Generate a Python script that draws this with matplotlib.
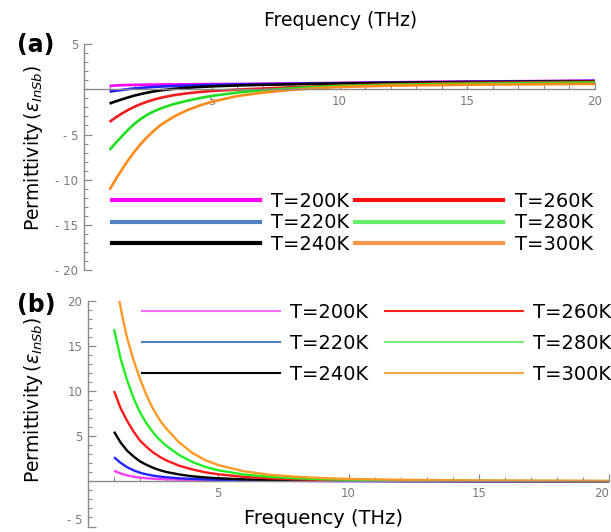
import matplotlib
matplotlib.use("Agg")
import matplotlib.pyplot as plt
from matplotlib.lines import Line2D
from matplotlib.ticker import MultipleLocator, FixedLocator, FixedFormatter

plt.rcParams['font.family'] = ['DejaVu Sans']
plt.rcParams['mathtext.fontset'] = 'dejavusans'

# ---------------- data ----------------
temps = ["T=200K", "T=220K", "T=240K", "T=260K", "T=280K", "T=300K"]

freq = [1, 1.25, 1.5, 1.75, 2, 2.25, 2.5, 2.75, 3, 3.5, 4, 4.5, 5, 6, 7, 8, 9, 10, 12, 15, 20]

# (a) real part of permittivity
re_200 = [0.37, 0.42, 0.45, 0.47, 0.49, 0.50, 0.51, 0.52, 0.53, 0.54, 0.55, 0.56, 0.57, 0.59, 0.61, 0.64, 0.67, 0.70, 0.77, 0.85, 0.95]
re_220 = [-0.26, -0.16, -0.07, 0.02, 0.10, 0.16, 0.21, 0.26, 0.30, 0.36, 0.41, 0.45, 0.48, 0.53, 0.57, 0.60, 0.64, 0.67, 0.74, 0.82, 0.92]
re_240 = [-1.58, -1.33, -1.10, -0.88, -0.68, -0.51, -0.36, -0.23, -0.12, 0.04, 0.16, 0.25, 0.32, 0.42, 0.49, 0.54, 0.59, 0.63, 0.70, 0.79, 0.88]
re_260 = [-3.60, -3.10, -2.65, -2.25, -1.90, -1.60, -1.35, -1.13, -0.94, -0.66, -0.46, -0.31, -0.19, -0.03, 0.08, 0.20, 0.30, 0.40, 0.55, 0.70, 0.83]
re_280 = [-6.70, -5.90, -5.15, -4.40, -3.76, -3.22, -2.78, -2.42, -2.12, -1.65, -1.30, -0.99, -0.74, -0.36, -0.10, 0.08, 0.24, 0.36, 0.50, 0.62, 0.75]
re_300 = [-11.10, -9.90, -8.80, -7.75, -6.80, -5.95, -5.20, -4.55, -3.95, -3.05, -2.35, -1.82, -1.38, -0.75, -0.37, -0.10, 0.10, 0.25, 0.40, 0.50, 0.60]

# (b) imaginary part of permittivity
im_200 = [1.17, 0.88, 0.66, 0.51, 0.41, 0.34, 0.29, 0.25, 0.22, 0.18, 0.15, 0.12, 0.10, 0.07, 0.05, 0.04, 0.03, 0.03, 0.02, 0.01, 0.01]
im_220 = [2.67, 2.05, 1.57, 1.22, 0.95, 0.77, 0.63, 0.53, 0.45, 0.34, 0.27, 0.21, 0.17, 0.11, 0.08, 0.06, 0.04, 0.03, 0.02, 0.01, 0.01]
im_240 = [5.50, 4.30, 3.40, 2.75, 2.20, 1.82, 1.50, 1.24, 1.04, 0.76, 0.56, 0.43, 0.34, 0.22, 0.15, 0.10, 0.08, 0.06, 0.04, 0.02, 0.01]
im_260 = [10.0, 8.10, 6.70, 5.50, 4.50, 3.80, 3.20, 2.72, 2.32, 1.73, 1.32, 1.00, 0.78, 0.49, 0.33, 0.23, 0.16, 0.12, 0.07, 0.04, 0.02]
im_280 = [16.85, 13.6, 11.2, 9.20, 7.60, 6.40, 5.40, 4.60, 3.95, 2.90, 2.15, 1.60, 1.22, 0.75, 0.50, 0.34, 0.24, 0.18, 0.11, 0.06, 0.03]
freq_300b = [1.2, 1.35, 1.5, 1.75, 2, 2.25, 2.5, 2.75, 3, 3.5, 4, 4.5, 5, 6, 7, 8, 9, 10, 12, 15, 20]
im_300 = [20.0, 17.8, 15.9, 13.4, 11.3, 9.5, 8.0, 6.8, 5.85, 4.3, 3.15, 2.35, 1.80, 1.10, 0.72, 0.50, 0.36, 0.27, 0.17, 0.09, 0.05]

curve_cols_a = ["#ff00ff", "#1f1fff", "#000000", "#ee1c1c", "#1ede1e", "#ff8a1c"]
legend_cols_a = ["#ff00ff", "#4f81bd", "#000000", "#ff1010", "#66ee66", "#f79646"]
curve_cols_b = ["#ff3cff", "#2222ff", "#000000", "#ff1a1a", "#22ee22", "#ff9a26"]
legend_cols_b = ["#f070f0", "#4f81bd", "#000000", "#ff2020", "#77f077", "#f7a844"]

W, H = 611, 532
fig = plt.figure(figsize=(W / 100, H / 100), dpi=100)

def px_axes(left, top, right, bottom):
    return fig.add_axes([left / W, 1 - bottom / H, (right - left) / W, (bottom - top) / H])

AX_COL = "#8a8a8a"

def style_axes(ax, xmax, ymin, ymax, ymajor, ylabels):
    ax.set_xlim(0, xmax)
    ax.set_ylim(ymin, ymax)
    for s in ["top", "right"]:
        ax.spines[s].set_visible(False)
    ax.spines["bottom"].set_position(("data", 0))
    ax.spines["left"].set_position(("data", 0))
    ax.spines["bottom"].set_bounds(0, 20)
    for s in ["bottom", "left"]:
        ax.spines[s].set_color(AX_COL)
        ax.spines[s].set_linewidth(1.0)
    ax.xaxis.set_major_locator(FixedLocator([5, 10, 15, 20]))
    ax.xaxis.set_major_formatter(FixedFormatter(["5", "10", "15", "20"]))
    ax.xaxis.set_minor_locator(FixedLocator([v for v in range(1, 21) if v % 5]))
    ax.yaxis.set_major_locator(FixedLocator(ymajor))
    ax.yaxis.set_major_formatter(FixedFormatter(ylabels))
    ax.yaxis.set_minor_locator(MultipleLocator(1))
    ax.tick_params(axis="both", which="both", direction="in", colors=AX_COL,
                   labelsize=8.5, labelcolor="#7a7a7a")
    ax.tick_params(axis="x", which="major", length=5, width=0.9, pad=4)
    ax.tick_params(axis="x", which="minor", length=3, width=0.8)
    ax.tick_params(axis="y", which="major", length=6, width=0.9, pad=4)
    ax.tick_params(axis="y", which="minor", length=3, width=0.8)
    ax.set_axisbelow(True)
    ax.patch.set_alpha(0)

# ---------------- panel (a) ----------------
axa = px_axes(84, 44.0, 84 + 20.3 * 25.55, 270.3)
style_axes(axa, 20.3, -20, 5, [-20, -15, -10, -5, 5], ["- 20", "- 15", "- 10", "- 5", "5"])
series_a = [re_200, re_220, re_240, re_260, re_280, re_300]
for vals, c in zip(series_a, curve_cols_a):
    axa.plot(freq, vals, color=c, lw=1.9, solid_capstyle="butt", solid_joinstyle="round")

handles_a = [Line2D([], [], color=c, lw=3.0) for c in legend_cols_a]
axa.legend(handles_a, temps, ncol=2, loc="upper left",
           bbox_to_anchor=(112 / W, 1 - 192 / H), bbox_transform=fig.transFigure,
           frameon=False, fontsize=14, handlelength=7.6, handletextpad=0.6,
           columnspacing=0.3, labelspacing=0.12, borderpad=0, borderaxespad=0)

# ---------------- panel (b) ----------------
axb = px_axes(88, 300.7, 611, 526.5)
style_axes(axb, 523 / 26.06, -5, 20, [-5, 5, 10, 15, 20], ["- 5", "5", "10", "15", "20"])
# keep the edge labels inside the figure
axb.yaxis.get_major_ticks()[0].label1.set_verticalalignment("bottom")
axb.xaxis.get_major_ticks()[-1].label1.set_horizontalalignment("right")
series_b = [(freq, im_200), (freq, im_220), (freq, im_240), (freq, im_260),
            (freq, im_280), (freq_300b, im_300)]
for (fx, vals), c in zip(series_b, curve_cols_b):
    axb.plot(fx, vals, color=c, lw=1.7, solid_capstyle="butt", solid_joinstyle="round")

handles_b = [Line2D([], [], color=c, lw=1.5) for c in legend_cols_b]
axb.legend(handles_b, temps, ncol=2, loc="upper left",
           bbox_to_anchor=(142 / W, 1 - 303 / H), bbox_transform=fig.transFigure,
           frameon=False, fontsize=14, handlelength=7.1, handletextpad=0.5,
           columnspacing=0.9, labelspacing=0.62, borderpad=0, borderaxespad=0)

# ---------------- texts ----------------
fig.text(341 / W, 1 - 21 / H, "Frequency (THz)", ha="center", va="center", fontsize=13.5)
fig.text(323 / W, 1 - 519 / H, "Frequency (THz)", ha="center", va="center", fontsize=14)
fig.text(36 / W, 1 - 45 / H, "(a)", ha="center", va="center", fontsize=17, fontweight="bold")
fig.text(36 / W, 1 - 305 / H, "(b)", ha="center", va="center", fontsize=17, fontweight="bold")
ylab = r"Permittivity$\,(\varepsilon_{InSb})$"
fig.text(34 / W, 1 - 148 / H, ylab, ha="center", va="center", rotation=90, fontsize=13.5)
fig.text(34 / W, 1 - 400 / H, ylab, ha="center", va="center", rotation=90, fontsize=13.5)

fig.savefig("out.png", dpi=100)
